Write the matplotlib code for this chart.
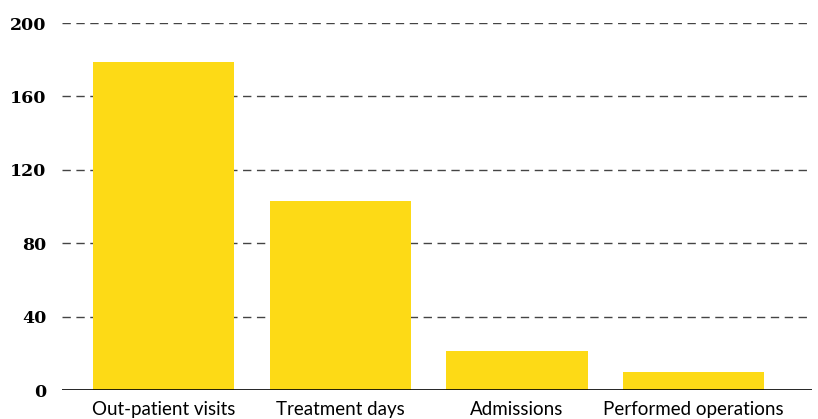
import matplotlib.pyplot as plt
import numpy as np

categories = ["Out-patient visits", "Treatment days", "Admissions", "Performed operations"]
values = [179, 103, 21, 10]
yticks = [0, 40, 80, 120, 160, 200]

fig = plt.figure(figsize=(8.18, 4.19), dpi=100)
ax = fig.add_axes([62 / 818, 1 - 390 / 419, 750 / 818, 367 / 419])

x = np.arange(len(categories))
ax.bar(x, values, width=0.8, color="#FDDA16", zorder=3)

ax.set_xlim(-0.575, 3.67)
ax.set_ylim(0, 200)

# dashed grid, solid baseline
for t in yticks[1:]:
    ax.axhline(t, color="#444444", linewidth=1, dashes=(6, 4), zorder=1)
ax.axhline(0, color="black", linewidth=1.2, zorder=4)

ax.set_yticks(yticks)
ax.set_yticklabels([str(t) for t in yticks], fontfamily="DejaVu Serif",
                   fontweight="bold", fontsize=12.5)
ax.set_xticks(x)
ax.set_xticklabels(categories, fontfamily="Lato", fontsize=13.5)
ax.tick_params(axis="both", length=0)
ax.tick_params(axis="y", pad=11)
ax.tick_params(axis="x", pad=8)

for s in ax.spines.values():
    s.set_visible(False)

fig.savefig("out.png", dpi=100)
